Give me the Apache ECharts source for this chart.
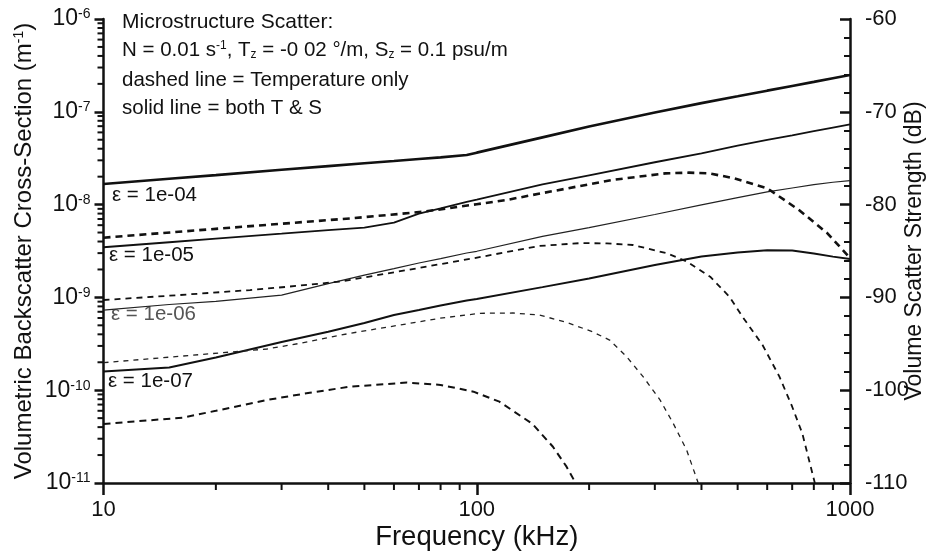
<!DOCTYPE html>
<html>
<head>
<meta charset="utf-8">
<script src="https://cdn.jsdelivr.net/npm/echarts@6/dist/echarts.min.js"></script>
<style>
html,body{margin:0;padding:0;background:#fff;}
#chart{width:930px;height:556px;}
</style>
</head>
<body>
<div id="chart"></div>
<script>
// ---- data ----
const freqSolid = [10, 15, 20, 30, 40, 50, 60, 70, 80, 94, 100, 150, 200, 300, 400, 500, 600, 700, 800, 900, 1000];
const solidE4 = [1.67e-8, 1.90e-8, 2.08e-8, 2.37e-8, 2.60e-8, 2.79e-8, 2.95e-8, 3.10e-8, 3.23e-8, 3.42e-8, 3.63e-8, 5.30e-8, 6.93e-8, 9.82e-8, 1.24e-7, 1.47e-7, 1.69e-7, 1.90e-7, 2.10e-7, 2.30e-7, 2.49e-7];
const solidE5 = [3.47e-9, 3.93e-9, 4.30e-9, 4.86e-9, 5.32e-9, 5.66e-9, 6.40e-9, 8.00e-9, 9.10e-9, 1.07e-8, 1.13e-8, 1.65e-8, 2.07e-8, 2.86e-8, 3.57e-8, 4.32e-8, 4.97e-8, 5.58e-8, 6.18e-8, 6.76e-8, 7.33e-8];
const solidE6 = [7.31e-10, 8.39e-10, 9.04e-10, 1.06e-9, 1.41e-9, 1.74e-9, 2.04e-9, 2.35e-9, 2.62e-9, 3.01e-9, 3.14e-9, 4.55e-9, 5.66e-9, 7.82e-9, 9.95e-9, 1.19e-8, 1.37e-8, 1.51e-8, 1.64e-8, 1.74e-8, 1.81e-8];
const solidE7 = [1.59e-10, 1.76e-10, 2.25e-10, 3.30e-10, 4.26e-10, 5.30e-10, 6.46e-10, 7.31e-10, 8.18e-10, 9.27e-10, 9.61e-10, 1.29e-9, 1.60e-9, 2.23e-9, 2.76e-9, 3.05e-9, 3.23e-9, 3.20e-9, 2.97e-9, 2.75e-9, 2.59e-9];

const freqDashE4 = [10, 20, 30, 46, 72, 100, 120, 150, 230, 320, 370, 420, 490, 600, 730, 870, 1000];
const dashE4 = [4.40e-9, 5.48e-9, 6.22e-9, 7.11e-9, 8.38e-9, 1.01e-8, 1.12e-8, 1.33e-8, 1.84e-8, 2.17e-8, 2.21e-8, 2.17e-8, 1.92e-8, 1.50e-8, 8.75e-9, 4.91e-9, 2.66e-9];
const freqDashE5 = [10, 16, 24.7, 31, 43, 65, 98, 147, 190, 223, 262, 323, 366, 422, 475, 515, 583, 647, 700, 745, 805];
const dashE5 = [9.37e-10, 1.06e-9, 1.20e-9, 1.30e-9, 1.48e-9, 1.97e-9, 2.64e-9, 3.58e-9, 3.85e-9, 3.82e-9, 3.67e-9, 2.99e-9, 2.43e-9, 1.67e-9, 1.02e-9, 6.20e-10, 3.07e-10, 1.40e-10, 6.64e-11, 3.43e-11, 1.0e-11];
const freqDashE6 = [10, 16, 27.4, 33.6, 45.7, 62.3, 79.6, 102, 125, 147, 174, 204, 227, 252, 279, 310, 336, 365, 392];
const dashE6 = [1.98e-10, 2.32e-10, 2.78e-10, 3.20e-10, 4.10e-10, 5.04e-10, 5.96e-10, 6.74e-10, 6.79e-10, 6.46e-10, 5.39e-10, 4.27e-10, 3.47e-10, 2.30e-10, 1.40e-10, 7.83e-11, 4.39e-11, 2.27e-11, 1.0e-11];
const freqDashE7 = [10, 16.3, 20, 27.4, 35.7, 45.7, 65, 80, 98, 115, 141, 160, 174, 184];
const dashE7 = [4.33e-11, 5.06e-11, 6.0e-11, 7.84e-11, 9.39e-11, 1.09e-10, 1.21e-10, 1.14e-10, 9.64e-11, 7.52e-11, 4.33e-11, 2.46e-11, 1.50e-11, 1.0e-11];

const epsLabels = ['\u03b5 = 1e-04', '\u03b5 = 1e-05', '\u03b5 = 1e-06', '\u03b5 = 1e-07'];
const xTickLabels = ['10', '100', '1000'];
const yTickExponents = [-11, -10, -9, -8, -7, -6];
const rightTicks = [-110, -100, -90, -80, -70, -60];
const minorMultipliers = [2, 3, 4, 5, 6, 7, 8, 9];
const xDecades = [10, 100];
const yDecades = [1e-11, 1e-10, 1e-9, 1e-8, 1e-7];

// ---- helpers ----
function pairs(xs, ys) { return xs.map((x, i) => [x, ys[i]]); }
const minorX = [];
xDecades.forEach(d => minorMultipliers.forEach(m => minorX.push([d * m, 1e-11])));
const minorY = [];
yDecades.forEach(d => minorMultipliers.forEach(m => minorY.push([10, d * m])));

const FONT = 'Liberation Sans, Arial, sans-serif';
const INK = '#111';

function lineSeries(data, width, dash, color) {
  return {
    type: 'line', data: data, showSymbol: false, symbol: 'none',
    xAxisIndex: 0, yAxisIndex: 0, silent: true, clip: true,
    lineStyle: { color: color || INK, width: width, type: dash || 'solid' },
    z: 3
  };
}

const chart = echarts.init(document.getElementById('chart'), null, { renderer: 'canvas' });

const option = {
  animation: false,
  backgroundColor: '#fff',
  grid: { left: 103.5, right: 80, top: 19, bottom: 73, containLabel: false, outerBoundsMode: 'none' },
  xAxis: {
    type: 'log', logBase: 10, min: 10, max: 1000,
    name: 'Frequency (kHz)', nameLocation: 'middle', nameGap: 40, nameMoveOverlap: false,
    nameTextStyle: { fontFamily: FONT, fontSize: 27.5, color: INK },
    axisLine: { show: true, lineStyle: { color: INK, width: 2.5 } },
    axisTick: { show: true, inside: false, length: 12, lineStyle: { color: INK, width: 2.5 } },
    axisLabel: {
      fontFamily: FONT, fontSize: 22, color: INK, margin: 16,
      formatter: v => { const i = Math.round(Math.log10(v)) - 1; return xTickLabels[i] !== undefined ? xTickLabels[i] : ''; }
    },
    splitLine: { show: false }
  },
  yAxis: [
    {
      type: 'log', logBase: 10, min: 1e-11, max: 1e-6, splitNumber: 5,
      name: 'Volumetric Backscatter Cross-Section (m{s|-1})', nameLocation: 'middle', nameGap: 67, nameMoveOverlap: false,
      nameTextStyle: { fontFamily: FONT, fontSize: 24, color: INK,
        rich: { s: { fontFamily: FONT, fontSize: 14, verticalAlign: 'top', color: INK } } },
      axisLine: { show: true, lineStyle: { color: INK, width: 2.5 } },
      axisTick: { show: true, inside: false, length: 9, lineStyle: { color: INK, width: 2.5 } },
      axisLabel: {
        margin: 13, color: INK,
        formatter: v => {
          const e = Math.round(Math.log10(v));
          const k = yTickExponents.indexOf(e);
          return k < 0 ? '' : '{b|10}{s|' + yTickExponents[k] + '}';
        },
        rich: {
          b: { fontFamily: FONT, fontSize: 23, color: INK },
          s: { fontFamily: FONT, fontSize: 14, color: INK, verticalAlign: 'top' }
        }
      },
      splitLine: { show: false }
    },
    {
      type: 'value', min: -110, max: -60, interval: 10, position: 'right',
      name: 'Volume Scatter Strength (dB)', nameLocation: 'middle', nameGap: 53, nameMoveOverlap: false,
      nameTextStyle: { fontFamily: FONT, fontSize: 23, color: INK },
      axisLine: { show: true, lineStyle: { color: INK, width: 2.5 } },
      axisTick: { show: true, inside: true, length: 10, lineStyle: { color: INK, width: 2.5 } },
      minorTick: { show: true, splitNumber: 5, length: 6, lineStyle: { color: INK, width: 2 } },
      axisLabel: {
        fontFamily: FONT, fontSize: 22, color: INK, margin: 15,
        formatter: v => rightTicks.indexOf(v) >= 0 ? String(v) : ''
      },
      splitLine: { show: false }, minorSplitLine: { show: false }
    }
  ],
  series: [
    lineSeries(pairs(freqSolid, solidE4), 2.6),
    lineSeries(pairs(freqSolid, solidE5), 1.8),
    lineSeries(pairs(freqSolid, solidE6), 1.2, 'solid', '#222'),
    lineSeries(pairs(freqSolid, solidE7), 2.0),
    lineSeries(pairs(freqDashE4, dashE4), 2.6, [7, 5]),
    lineSeries(pairs(freqDashE5, dashE5), 1.8, [6, 5]),
    lineSeries(pairs(freqDashE6, dashE6), 1.3, [5, 5], '#222'),
    lineSeries(pairs(freqDashE7, dashE7), 2.0, [7, 5]),
    {
      type: 'custom', coordinateSystem: 'cartesian2d', xAxisIndex: 0, yAxisIndex: 0,
      silent: true, data: minorX, z: 5,
      renderItem: (params, api) => {
        const p = api.coord([api.value(0), api.value(1)]);
        return { type: 'line', shape: { x1: p[0], y1: p[1], x2: p[0], y2: p[1] + 7 },
          style: { stroke: INK, lineWidth: 2 } };
      }
    },
    {
      type: 'custom', coordinateSystem: 'cartesian2d', xAxisIndex: 0, yAxisIndex: 0,
      silent: true, data: minorY, z: 5,
      renderItem: (params, api) => {
        const p = api.coord([api.value(0), api.value(1)]);
        return { type: 'line', shape: { x1: p[0], y1: p[1], x2: p[0] - 6, y2: p[1] },
          style: { stroke: INK, lineWidth: 2 } };
      }
    }
  ],
  graphic: [
    { type: 'text', left: 122, top: 12, style: { text: 'Microstructure Scatter:', fontFamily: FONT, fontSize: 21, fill: INK } },
    { type: 'text', left: 122, top: 40, style: {
      text: 'N = 0.01 s{p|-1}, T{b|z} = -0 02 \u00b0/m, S{b|z} = 0.1 psu/m', fontFamily: FONT, fontSize: 20.5, fill: INK,
      rich: {
        p: { fontFamily: FONT, fontSize: 12, verticalAlign: 'top', fill: INK },
        b: { fontFamily: FONT, fontSize: 12, verticalAlign: 'bottom', fill: INK }
      } } },
    { type: 'text', left: 122, top: 70, style: { text: 'dashed line = Temperature only', fontFamily: FONT, fontSize: 20.5, fill: INK } },
    { type: 'text', left: 122, top: 98, style: { text: 'solid line = both T & S', fontFamily: FONT, fontSize: 20.5, fill: INK } },
    { type: 'text', left: 112, top: 185, style: { text: epsLabels[0], fontFamily: FONT, fontSize: 20.5, fill: INK } },
    { type: 'text', left: 109, top: 245, style: { text: epsLabels[1], fontFamily: FONT, fontSize: 20.5, fill: INK } },
    { type: 'text', left: 111, top: 304, style: { text: epsLabels[2], fontFamily: FONT, fontSize: 20.5, fill: '#555' } },
    { type: 'text', left: 108, top: 371, style: { text: epsLabels[3], fontFamily: FONT, fontSize: 20.5, fill: INK } }
  ]
};
chart.setOption(option);
</script>
</body>
</html>
